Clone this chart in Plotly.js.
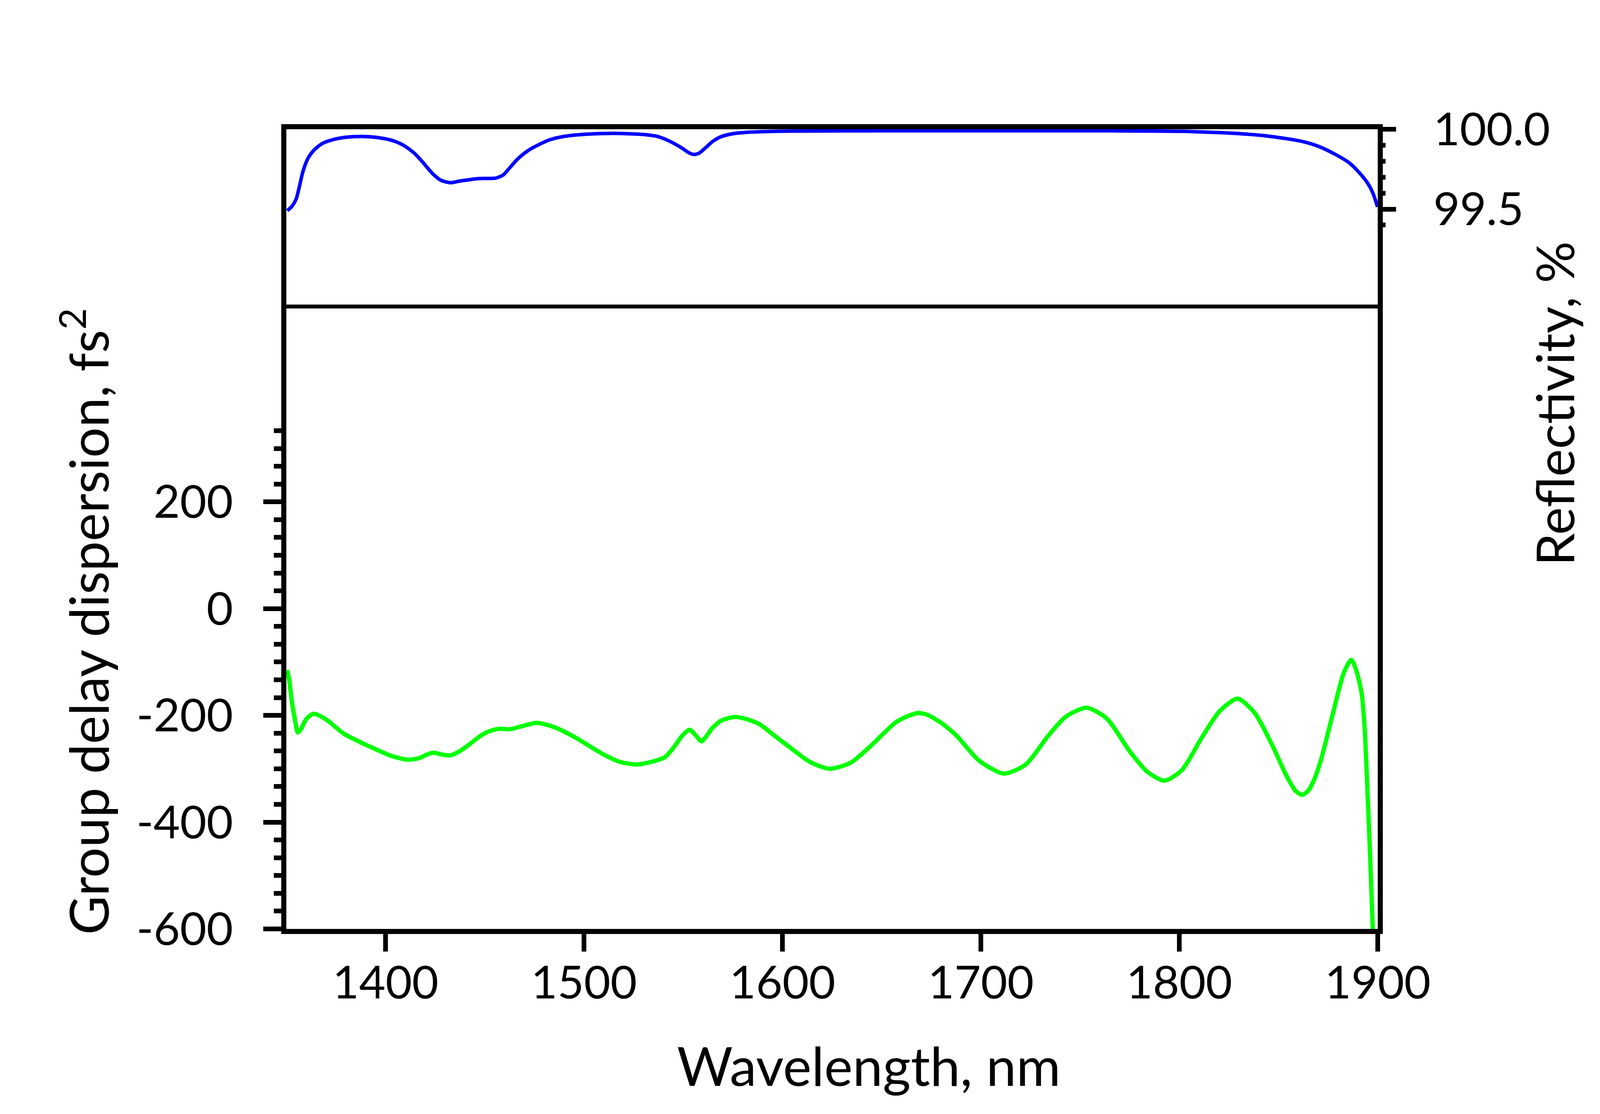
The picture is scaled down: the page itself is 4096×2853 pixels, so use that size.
<!DOCTYPE html>
<html>
<head>
<meta charset="utf-8">
<script src="https://cdn.plot.ly/plotly-3.0.1.min.js"></script>
<style>html,body{margin:0;padding:0;background:#fff;}#chart{width:4096px;height:2853px;}</style>
</head>
<body>
<div id="chart"></div>
<script>
// Reflectivity (%) vs wavelength (nm)
const reflWavelength = [1350.5,1353,1355,1358.5,1361,1364,1368,1373.5,1380,1388.4,1396,1403.3,1409,1414.4,1419,1423.7,1428,1433,1437,1440.5,1445,1449.8,1455.5,1459.2,1462,1466.6,1472,1477.8,1483,1489,1500,1513.2,1522,1530,1537,1543,1549,1553,1555.3,1558,1561.6,1565,1569,1575,1582,1590,1600.7,1650,1712.5,1766.4,1801,1826.9,1844.2,1861.4,1870.1,1878.7,1885.6,1890.8,1895.1,1897.7,1899.9];
const reflectivity = [99.49,99.52,99.565,99.741,99.82,99.87,99.91,99.935,99.95,99.955,99.948,99.93,99.9,99.851,99.79,99.722,99.68,99.665,99.675,99.681,99.689,99.692,99.694,99.713,99.75,99.814,99.868,99.907,99.935,99.953,99.968,99.974,99.972,99.967,99.955,99.926,99.885,99.852,99.842,99.85,99.888,99.925,99.953,99.972,99.981,99.985,99.988,99.99,99.99,99.99,99.987,99.975,99.958,99.925,99.893,99.842,99.79,99.727,99.659,99.596,99.514];

// Group delay dispersion (fs^2) vs wavelength (nm)
const gddWavelength = [1350.5,1351.5,1353,1354.2,1355.8,1357.5,1360,1363.6,1367,1370.9,1379.3,1393.6,1403,1411.2,1417,1421,1424.5,1428,1432.3,1437,1442,1447.2,1452,1457.4,1462.7,1468,1476.4,1485,1495,1509.3,1518,1526.5,1533,1540.7,1545.8,1549.5,1553.2,1556,1559.2,1561.5,1564.6,1569,1576,1582,1588.7,1596,1603.3,1613.7,1623.6,1634.5,1645,1657.5,1667.9,1672.9,1680,1687.5,1699.2,1711.6,1722.6,1734.2,1743,1753.2,1763.4,1775.1,1783.9,1792.6,1801.4,1811.6,1820.4,1829.4,1837.9,1846.6,1854,1858.5,1862,1865.2,1868,1871.2,1877.1,1882.9,1886.7,1889.2,1891.9,1893.4,1894.6,1896.1,1897.5];
const gdd = [-115,-135,-180,-205,-232,-225,-207,-197,-201,-210,-235,-261,-276,-283,-280,-273,-270,-273,-275,-268,-255,-240,-230,-225,-226,-221,-214,-222,-240,-272,-287,-292,-288,-278.5,-257,-238,-227,-236,-248.6,-240,-224,-210,-203,-207,-217,-238,-258.6,-286.8,-300,-288.5,-255.5,-212,-195.7,-198.7,-214,-237,-285,-309,-292,-237,-202,-185.7,-205.6,-267.7,-305.8,-322.3,-302,-240,-191.8,-168.6,-195,-254,-313,-341,-349,-340,-320,-286,-201,-120,-96,-116,-159,-224,-321,-457,-600];

// Axis ticks
const xTicks = [1400,1500,1600,1700,1800,1900];
const gddTicks = [-600,-400,-200,0,200];
const gddTickText = ['-600','-400','-200','0','200'];
const gddMinorTicks = [-566.67,-533.33,-500,-466.67,-433.33,-366.67,-333.33,-300,-266.67,-233.33,-166.67,-133.33,-100,-66.67,-33.33,33.33,66.67,100,133.33,166.67,233.33,266.67,300,333.33];
const reflTicks = [99.5,100.0];
const reflTickText = ['99.5','100.0'];
const reflMinorTicks = [99.4,99.6,99.7,99.8,99.9];

const FONT = 'Lato, "Open Sans", sans-serif';

const traces = [
  {x: gddWavelength, y: gdd, type: 'scatter', mode: 'lines', xaxis: 'x', yaxis: 'y',
   line: {color: '#00ff00', width: 11, shape: 'spline', smoothing: 0.7}, hoverinfo: 'skip'},
  {x: reflWavelength, y: reflectivity, type: 'scatter', mode: 'lines', xaxis: 'x', yaxis: 'y2',
   line: {color: '#0000ff', width: 9, shape: 'spline', smoothing: 0.7}, hoverinfo: 'skip'}
];

const layout = {
  width: 4096, height: 2853,
  margin: {l: 733, r: 569, t: 331, b: 474, pad: 0},
  paper_bgcolor: '#ffffff', plot_bgcolor: '#ffffff',
  showlegend: false,
  font: {family: FONT, color: '#000000', size: 115},
  xaxis: {
    range: [1350, 1900], tickmode: 'array', tickvals: xTicks,
    ticks: 'outside', ticklen: 45, tickwidth: 12, tickcolor: '#000',
    showline: true, linewidth: 13, linecolor: '#000', mirror: true,
    showgrid: false, zeroline: false,
    tickfont: {family: FONT, size: 117, color: '#000'},
    ticklabelstandoff: -20
  },
  yaxis: {
    domain: [0, 1], range: [-600, 898],
    tickmode: 'array', tickvals: gddTicks, ticktext: gddTickText,
    ticks: 'outside', ticklen: 46, tickwidth: 12, tickcolor: '#000',
    minor: {tickmode: 'array', tickvals: gddMinorTicks, ticks: 'outside', ticklen: 19, tickwidth: 12, tickcolor: '#000', showgrid: false},
    showline: true, linewidth: 13, linecolor: '#000', mirror: true,
    showgrid: false, zeroline: false,
    tickfont: {family: FONT, size: 117, color: '#000'},
    ticklabelstandoff: 54
  },
  yaxis2: {
    domain: [0.7783, 1], range: [98.89, 100], anchor: 'x', side: 'right',
    tickmode: 'array', tickvals: reflTicks, ticktext: reflTickText,
    ticks: 'outside', ticklen: 46, tickwidth: 12, tickcolor: '#000',
    minor: {tickmode: 'array', tickvals: reflMinorTicks, ticks: 'outside', ticklen: 19, tickwidth: 12, tickcolor: '#000', showgrid: false},
    showline: false, linewidth: 13, linecolor: '#000',
    showgrid: false, zeroline: false,
    tickfont: {family: FONT, size: 117, color: '#000'},
    ticklabelstandoff: 72
  },
  shapes: [
    {type: 'line', xref: 'paper', yref: 'paper', x0: 0, x1: 1, y0: 0.7783, y1: 0.7783,
     line: {color: '#000', width: 10}}
  ],
  annotations: [
    {text: 'Wavelength, nm', xref: 'paper', yref: 'paper', x: 0.5336, y: -0.170,
     xanchor: 'center', yanchor: 'middle', showarrow: false,
     font: {family: FONT, size: 138, color: '#000'}},
    {text: 'Group delay dispersion, fs<sup>2</sup>', xref: 'paper', yref: 'paper', x: -0.1850, y: 0.3843,
     xanchor: 'center', yanchor: 'middle', showarrow: false, textangle: -90,
     font: {family: FONT, size: 137, color: '#000'}},
    {text: 'Reflectivity, %', xref: 'paper', yref: 'paper', x: 1.1615, y: 0.6567,
     xanchor: 'center', yanchor: 'middle', showarrow: false, textangle: -90,
     font: {family: FONT, size: 134, color: '#000'}}
  ]
};

Plotly.newPlot('chart', traces, layout, {staticPlot: true, displayModeBar: false});
</script>
</body>
</html>
